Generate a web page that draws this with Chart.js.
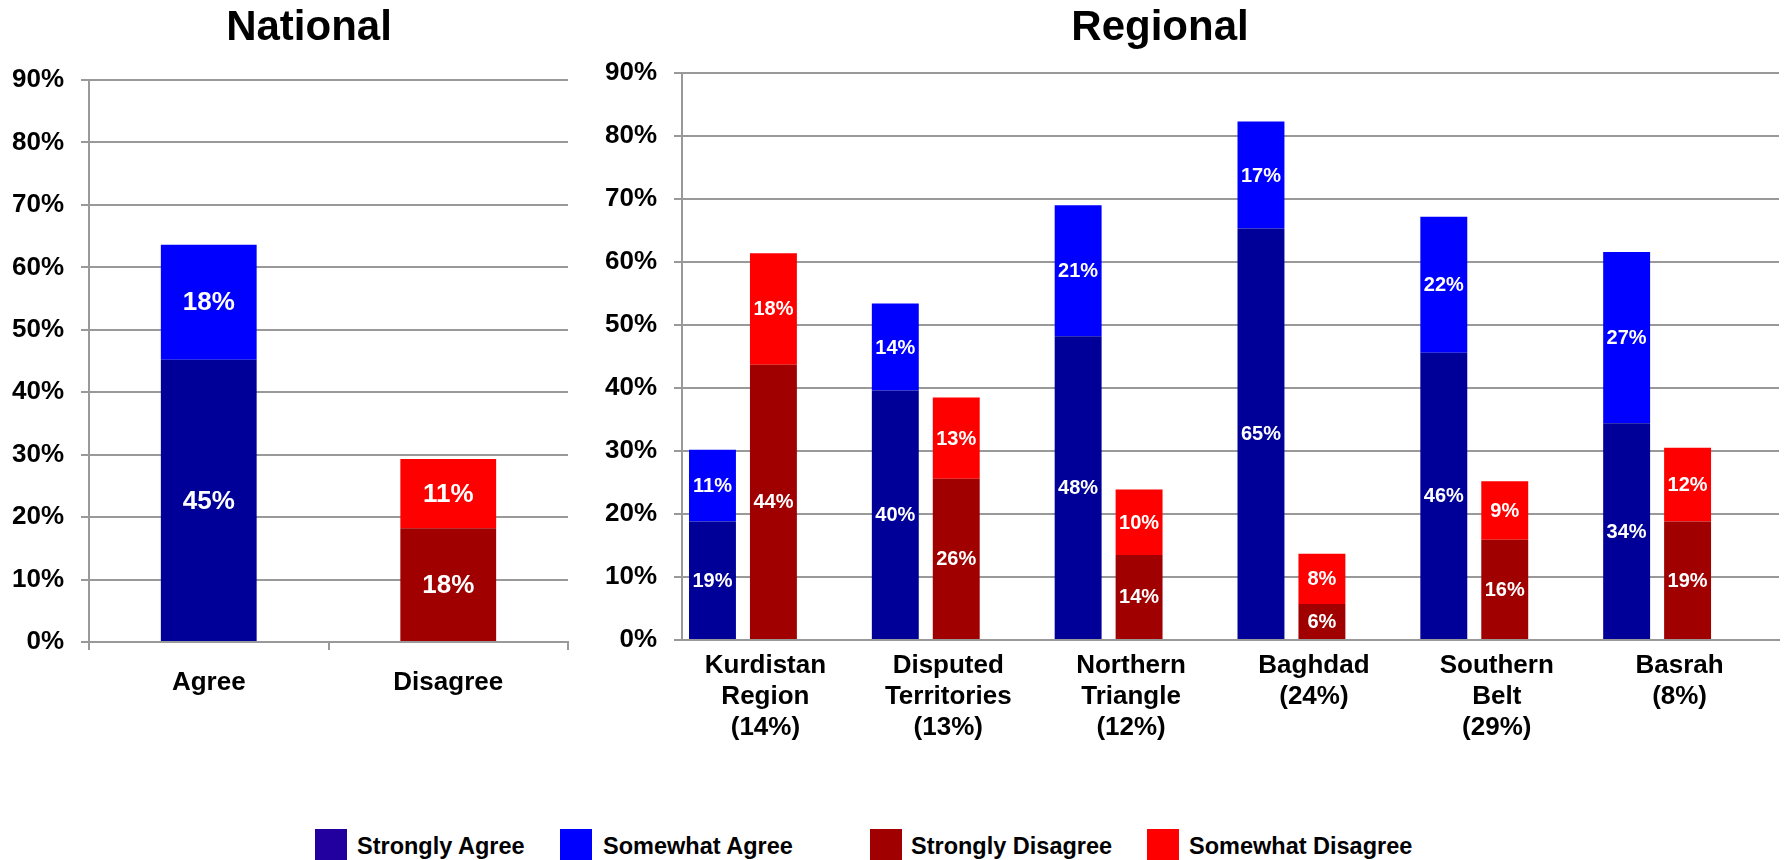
<!DOCTYPE html>
<html>
<head>
<meta charset="utf-8">
<title>National / Regional</title>
<script src="https://cdn.jsdelivr.net/npm/chart.js@4.4.1/dist/chart.umd.min.js"></script>
<style>
  body { margin: 0; background: #fff; font-family: "Liberation Sans", Arial, sans-serif; }
  #page { position: relative; width: 1785px; height: 860px; overflow: hidden; }
  canvas { position: absolute; top: 0; }
  .title { position: absolute; top: 5px; width: 400px; text-align: center; font-weight: bold; font-size: 42px; line-height: 42px; }
  .key { position: absolute; top: 829px; width: 32px; height: 31px; }
  .keytext { position: absolute; top: 835px; font-weight: bold; font-size: 23.5px; line-height: 22px; white-space: nowrap; }
</style>
</head>
<body>
<div id="page">
  <canvas id="national" width="590" height="800" style="left:0"></canvas>
  <canvas id="regional" width="1195" height="800" style="left:590px"></canvas>
  <div class="title" style="left:109px">National</div>
  <div class="title" style="left:960px">Regional</div>

  <div class="key" style="left:315px;background:#2200a0"></div>
  <div class="keytext" style="left:357px">Strongly Agree</div>
  <div class="key" style="left:560px;background:#0000ff"></div>
  <div class="keytext" style="left:603px">Somewhat Agree</div>
  <div class="key" style="left:870px;background:#a00000"></div>
  <div class="keytext" style="left:911px">Strongly Disagree</div>
  <div class="key" style="left:1147px;background:#ff0000"></div>
  <div class="keytext" style="left:1189px">Somewhat Disagree</div>
</div>
<script>
// national
var nationalLabels = ['Agree', 'Disagree'];
var nationalStronglyAgree = [45.2, null];
var nationalSomewhatAgree = [18.4, null];
var nationalStronglyDisagree = [null, 18.2];
var nationalSomewhatDisagree = [null, 11.1];

// regional (share of sample in brackets)
var regionLabels = [
    ['Kurdistan', 'Region', '(14%)'],
    ['Disputed', 'Territories', '(13%)'],
    ['Northern', 'Triangle', '(12%)'],
    ['Baghdad', '(24%)'],
    ['Southern', 'Belt', '(29%)'],
    ['Basrah', '(8%)']
];
var regionStronglyAgree = [18.8, 39.6, 48.2, 65.3, 45.6, 34.4];
var regionSomewhatAgree = [11.4, 13.8, 20.8, 17.0, 21.6, 27.2];
var regionStronglyDisagree = [43.7, 25.6, 13.5, 5.7, 15.9, 18.8];
var regionSomewhatDisagree = [17.7, 12.9, 10.4, 8.0, 9.3, 11.7];

var yTicks = [0, 10, 20, 30, 40, 50, 60, 70, 80, 90];

var FONT = '"Liberation Sans", Arial, sans-serif';
var GRID = '#999999';
Chart.defaults.font.family = FONT;

// white value text in the middle of each segment
var segmentLabels = {
    id: 'segmentLabels',
    afterDatasetsDraw: function(chart, args, opts) {
        var ctx = chart.ctx;
        ctx.save();
        ctx.fillStyle = '#ffffff';
        ctx.font = 'bold ' + opts.size + 'px ' + FONT;
        ctx.textAlign = 'center';
        ctx.textBaseline = 'middle';
        chart.data.datasets.forEach(function(ds, i) {
            if (ds.noLabel) return;
            var meta = chart.getDatasetMeta(i);
            meta.data.forEach(function(bar, j) {
                var v = ds.data[j];
                if (v === null || v === undefined) return;
                ctx.fillText(Math.round(v) + '%', bar.x, (bar.y + bar.base) / 2 + 1);
            });
        });
        ctx.restore();
    }
};

function makeOptions(o) {
    return {
        responsive: false,
        animation: false,
        layout: { padding: { top: o.padTop, right: o.padRight, left: 0, bottom: 0 } },
        datasets: { bar: { categoryPercentage: 1, barPercentage: o.barPct } },
        plugins: {
            legend: { display: false },
            tooltip: { enabled: false },
            title: { display: false },
            segmentLabels: { size: o.labelSize }
        },
        scales: {
            x: {
                stacked: true,
                afterFit: function(s) { s.height = o.axisHeight; },
                grid: { drawOnChartArea: false, drawTicks: o.xTicks, tickLength: 8, color: GRID, lineWidth: 2 },
                border: { display: true, color: GRID, width: 2 },
                ticks: { color: '#000', padding: o.xPad, labelOffset: o.labelOffset, font: { size: 26, weight: 'bold' } }
            },
            y: {
                stacked: true,
                min: 0,
                max: 90,
                afterFit: function(s) { s.width = o.axisWidth; },
                afterBuildTicks: function(s) { s.ticks = yTicks.map(function(v) { return { value: v }; }); },
                grid: { color: GRID, lineWidth: 2, drawTicks: true, tickLength: 8 },
                border: { display: true, color: GRID, width: 2 },
                ticks: {
                    color: '#000',
                    padding: 17,
                    font: { size: 26, weight: 'bold' },
                    callback: function(v) { return v + '%'; }
                }
            }
        }
    };
}

new Chart(document.getElementById('national'), {
    type: 'bar',
    data: {
        labels: nationalLabels,
        datasets: [
            { label: 'Strongly Agree', data: nationalStronglyAgree, backgroundColor: '#000099', stack: 'n' },
            { label: 'Somewhat Agree', data: nationalSomewhatAgree, backgroundColor: '#0000ff', stack: 'n' },
            { label: 'Strongly Disagree', data: nationalStronglyDisagree, backgroundColor: '#a00000', stack: 'n' },
            { label: 'Somewhat Disagree', data: nationalSomewhatDisagree, backgroundColor: '#ff0000', stack: 'n' }
        ]
    },
    options: makeOptions({ axisWidth: 89, axisHeight: 158, padTop: 80, padRight: 22, xTicks: true, xPad: 17,
                           labelOffset: 0, labelSize: 26, barPct: 0.4 }),
    plugins: [segmentLabels]
});

new Chart(document.getElementById('regional'), {
    type: 'bar',
    data: {
        labels: regionLabels,
        datasets: [
            { label: 'Strongly Agree', data: regionStronglyAgree, backgroundColor: '#000099', stack: 'agree' },
            { label: 'Somewhat Agree', data: regionSomewhatAgree, backgroundColor: '#0000ff', stack: 'agree' },
            { label: 'Strongly Disagree', data: regionStronglyDisagree, backgroundColor: '#a00000', stack: 'disagree' },
            { label: 'Somewhat Disagree', data: regionSomewhatDisagree, backgroundColor: '#ff0000', stack: 'disagree' },
            // empty third slot, keeps the pair left of centre like the original
            { label: '', data: [0, 0, 0, 0, 0, 0], backgroundColor: 'rgba(0,0,0,0)', stack: 'gap', noLabel: true }
        ]
    },
    options: makeOptions({ axisWidth: 92, axisHeight: 160, padTop: 73, padRight: 6, xTicks: false, xPad: 10,
                           labelOffset: -8, labelSize: 20, barPct: 0.77 }),
    plugins: [segmentLabels]
});
</script>
</body>
</html>
